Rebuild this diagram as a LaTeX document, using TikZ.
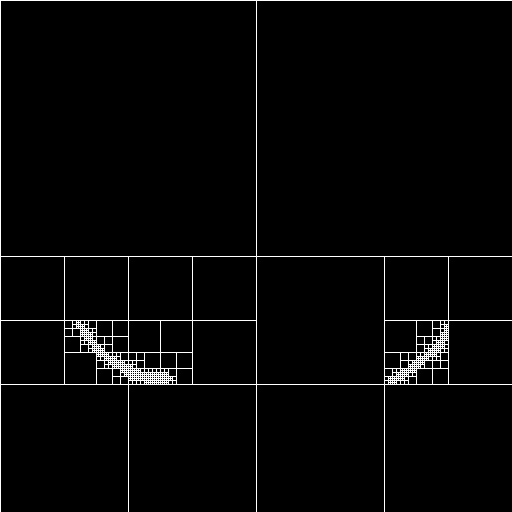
\documentclass[tikz,border=0pt]{standalone}
\newif\ifhit
\def\ptlist{}
\newcommand\addline[4]{%
  \pgfmathtruncatemacro\nn{max(abs(#3-#1),abs(#4-#2))}%
  \foreach \k in {0,...,\nn}{%
    \pgfmathtruncatemacro\px{round(#1+(#3-#1)*\k/max(\nn,1))}%
    \pgfmathtruncatemacro\py{round(#2+(#4-#2)*\k/max(\nn,1))}%
    \xdef\ptlist{\unexpanded\expandafter{\ptlist}\noexpand\qpt{\px}{\py}}%
  }}
\def\dd{1}
\def\qpt#1#2{%
  \ifnum#1<\xlo\else\ifnum#1<\xhi
  \ifnum#2<\ylo\else\ifnum#2<\yhi \global\hittrue\fi\fi
  \fi\fi}
\def\qt#1#2#3{%
  \begingroup
  \draw[qline] (#1,#2) rectangle ++(#3,#3);
  \ifnum#3>2
    \edef\xlo{\the\numexpr#1-\dd}%
    \edef\xhi{\the\numexpr#1+#3+\dd}%
    \edef\ylo{\the\numexpr#2-\dd}%
    \edef\yhi{\the\numexpr#2+#3+\dd}%
    \global\hitfalse
    \ptlist
    \ifhit
      \edef\h{\the\numexpr#3/2}%
      \edef\next{%
        \noexpand\qt{#1}{#2}{\h}%
        \noexpand\qt{\the\numexpr#1+\h}{#2}{\h}%
        \noexpand\qt{#1}{\the\numexpr#2+\h}{\h}%
        \noexpand\qt{\the\numexpr#1+\h}{\the\numexpr#2+\h}{\h}}%
      \next
    \fi
  \fi
  \endgroup}
\begin{document}
\begin{tikzpicture}[x=1pt,y=-1pt,qline/.style={draw=white,line width=0.9pt}]
\fill[black] (0,0) rectangle (512,512);
\useasboundingbox (0,0) rectangle (512,512);
% left arc
\addline{77}{322}{82}{329}\addline{82}{329}{88}{337}\addline{88}{337}{94}{345}
\addline{94}{345}{100}{351}\addline{100}{351}{107}{357}\addline{107}{357}{115}{362}
\addline{115}{362}{123}{366}\addline{123}{366}{131}{370}\addline{131}{370}{140}{373}
\addline{140}{373}{150}{375}\addline{150}{375}{160}{376}\addline{160}{376}{167}{377}
\addline{128}{374}{140}{377}\addline{140}{377}{155}{380}\addline{155}{380}{166}{380}
% right arc
\addline{446}{328}{443}{336}\addline{443}{336}{439}{343}\addline{439}{343}{432}{350}
\addline{432}{350}{424}{357}\addline{424}{357}{416}{363}\addline{416}{363}{408}{369}
\addline{408}{369}{401}{374}\addline{401}{374}{395}{378}\addline{395}{378}{390}{381}
\qt{0}{0}{512}
\end{tikzpicture}
\end{document}
